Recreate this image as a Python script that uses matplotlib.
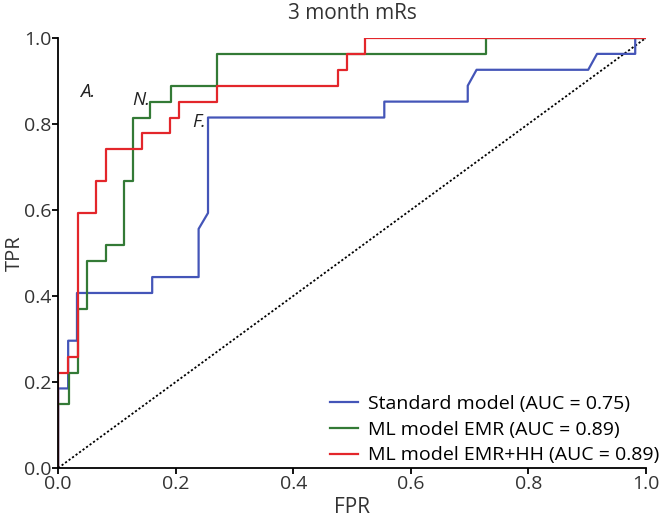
import matplotlib.pyplot as plt

# ROC curve vertices
fpr_std = [0, 0, 0.017, 0.017, 0.032, 0.032, 0.160, 0.160, 0.239, 0.239, 0.255, 0.255,
           0.555, 0.555, 0.697, 0.697, 0.712, 0.902, 0.917, 0.982, 0.982, 1.0]
tpr_std = [0, 0.185, 0.185, 0.296, 0.296, 0.407, 0.407, 0.444, 0.444, 0.556, 0.593, 0.815,
           0.815, 0.852, 0.852, 0.889, 0.926, 0.926, 0.963, 0.963, 1.0, 1.0]

fpr_emr = [0, 0, 0.019, 0.019, 0.034, 0.034, 0.049, 0.049, 0.081, 0.081, 0.112, 0.112,
           0.127, 0.127, 0.157, 0.157, 0.192, 0.192, 0.270, 0.270, 0.728, 0.728, 1.0]
tpr_emr = [0, 0.148, 0.148, 0.222, 0.222, 0.370, 0.370, 0.481, 0.481, 0.519, 0.519, 0.667,
           0.667, 0.815, 0.815, 0.852, 0.852, 0.889, 0.889, 0.963, 0.963, 1.0, 1.0]

fpr_hh = [0, 0, 0.017, 0.017, 0.033, 0.033, 0.064, 0.064, 0.081, 0.081, 0.143, 0.143,
          0.191, 0.191, 0.206, 0.206, 0.270, 0.270, 0.476, 0.476, 0.491, 0.491, 0.523, 0.523, 1.0]
tpr_hh = [0, 0.222, 0.222, 0.259, 0.259, 0.593, 0.593, 0.667, 0.667, 0.741, 0.741, 0.778,
          0.778, 0.815, 0.815, 0.852, 0.852, 0.889, 0.889, 0.926, 0.926, 0.963, 0.963, 1.0, 1.0]

labels = ['Standard model (AUC = 0.75)', 'ML model EMR (AUC = 0.89)',
          'ML model EMR+HH (AUC = 0.89)']
colors = ['#4455b8', '#337a36', '#e3262b']

# point labels on the plot
marks = ['A.', 'N.', 'F.']
mark_x = [0.051, 0.142, 0.239]
mark_y = [0.875, 0.856, 0.805]

plt.rcParams['font.family'] = ['Open Sans', 'DejaVu Sans']

fig = plt.figure(figsize=(6.61, 5.20), dpi=100)
ax = fig.add_axes([0.088, 0.1, 0.889, 0.827])

ax.plot([0, 1], [0, 1], color='black', lw=1.3, linestyle=(0, (1.2, 1.2)))
ax.plot(fpr_std, tpr_std, color=colors[0], lw=1.6, label=labels[0])
ax.plot(fpr_emr, tpr_emr, color=colors[1], lw=1.6, label=labels[1])
ax.plot(fpr_hh, tpr_hh, color=colors[2], lw=1.6, label=labels[2])

for t, x, y in zip(marks, mark_x, mark_y):
    ax.text(x, y, t, fontstyle='italic', fontsize=13.5, ha='center', va='center', color='#222222')

ax.set_xlim(0, 1)
ax.set_ylim(0, 1)
ax.set_xticks([0, 0.2, 0.4, 0.6, 0.8, 1.0])
ax.set_yticks([0, 0.2, 0.4, 0.6, 0.8, 1.0])
ax.set_xticklabels(['0.0', '0.2', '0.4', '0.6', '0.8', '1.0'])
ax.set_yticklabels(['0.0', '0.2', '0.4', '0.6', '0.8', '1.0'])
ax.spines['top'].set_visible(False)
ax.spines['right'].set_visible(False)
ax.spines['left'].set_linewidth(1.3)
ax.spines['bottom'].set_linewidth(1.3)
ax.tick_params(width=1.3, length=4, labelsize=14, colors='black', labelcolor='#333333', pad=1)
ax.set_xlabel('FPR', fontsize=15, color='#333333')
ax.set_ylabel('TPR', fontsize=14.5, color='#333333')
ax.xaxis.set_label_coords(0.5, -0.067)
ax.yaxis.set_label_coords(-0.056, 0.5)
ax.set_title('3 month mRs', fontsize=15, color='#333333', pad=14)

ax.legend(loc='lower left', bbox_to_anchor=(0.46, 0.004), frameon=False, fontsize=14,
          handlelength=1.4, borderaxespad=0, borderpad=0.1, labelspacing=0.4,
          handletextpad=0.55)

plt.savefig('out.png', dpi=100)
